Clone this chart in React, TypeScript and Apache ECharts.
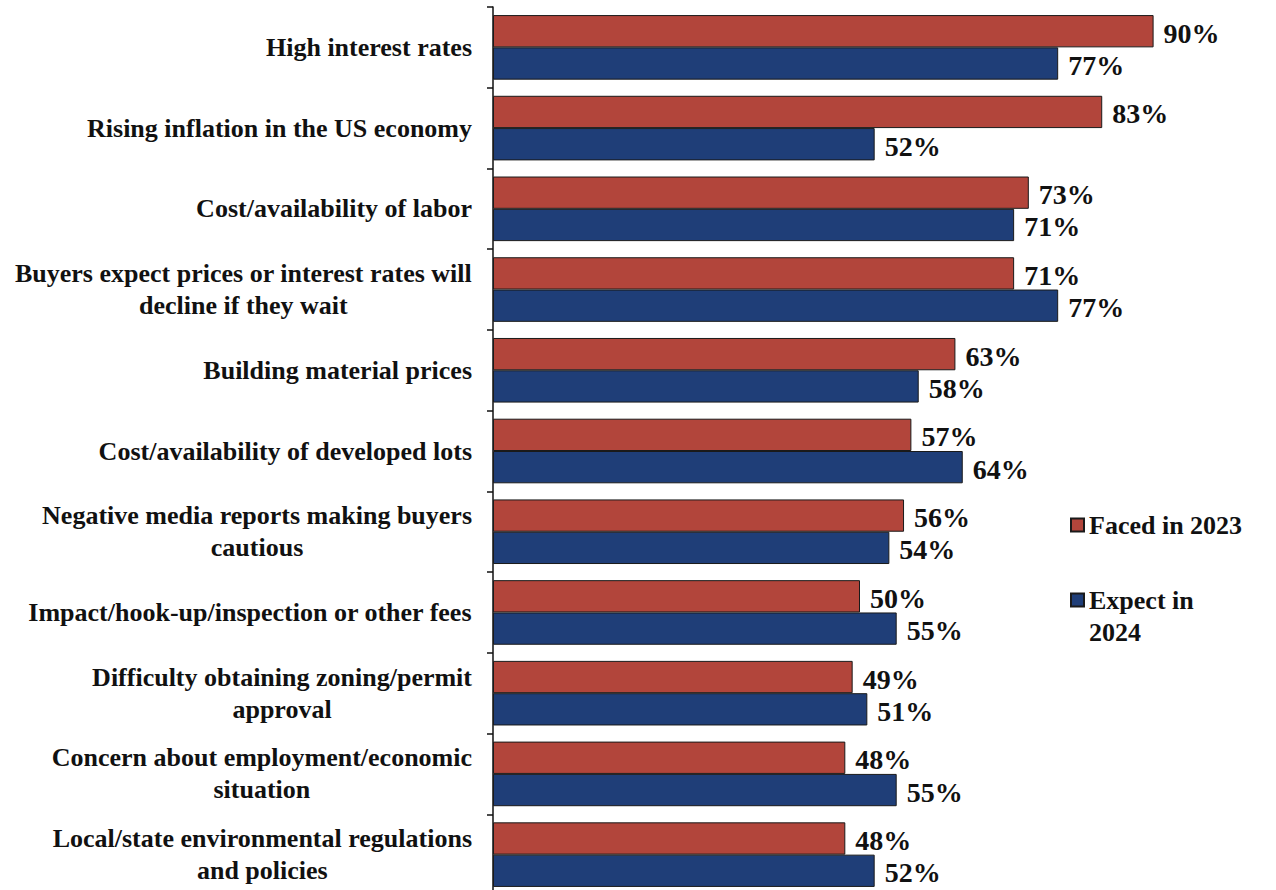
import React, { useEffect, useRef } from "react";
import * as echarts from "echarts";

const categories = [
  "High interest rates",
  "Rising inflation in the US economy",
  "Cost/availability of labor",
  "Buyers expect prices or interest rates will\ndecline if they wait",
  "Building material prices",
  "Cost/availability of developed lots",
  "Negative media reports making buyers\ncautious",
  "Impact/hook-up/inspection or other fees",
  "Difficulty obtaining zoning/permit\napproval",
  "Concern about employment/economic\nsituation",
  "Local/state environmental regulations\nand policies",
];

const faced2023 = [90, 83, 73, 71, 63, 57, 56, 50, 49, 48, 48];
const expect2024 = [77, 52, 71, 77, 58, 64, 54, 55, 51, 55, 52];

const seriesNames = ["Faced in 2023", "Expect in 2024"];

const FONT = "'Liberation Serif', 'Times New Roman', serif";
const RED = "#B2453B";
const BLUE = "#1F3E78";

export default function App() {
  const ref = useRef<HTMLDivElement>(null);

  useEffect(() => {
    if (!ref.current) return;
    const chart = echarts.init(ref.current, null, { renderer: "svg" });

    const labelStyle = {
      show: true,
      position: "right" as const,
      distance: 10,
      offset: [0, 2],
      formatter: "{c}%",
      fontFamily: FONT,
      fontWeight: "bold" as const,
      fontSize: 28,
      color: "#111",
    };

    const legendText = {
      fontFamily: FONT,
      fontWeight: "bold" as const,
      fontSize: 26,
      color: "#111",
      lineHeight: 32,
    };

    chart.setOption({
      animation: false,
      backgroundColor: "#ffffff",
      grid: { left: 493, top: 7, right: 49, bottom: 5, containLabel: false },
      xAxis: {
        type: "value",
        min: 0,
        max: 100,
        show: false,
      },
      yAxis: {
        type: "category",
        inverse: true,
        data: categories,
        axisLine: { show: true, lineStyle: { color: "#111", width: 1.5 } },
        axisTick: { show: true, length: 6, lineStyle: { color: "#111", width: 1.5 } },
        axisLabel: {
          margin: 21,
          formatter: (v: string) =>
            v
              .split("\n")
              .map((l) => `{c|${l}}`)
              .join("\n"),
          rich: {
            c: {
              align: "center",
              fontFamily: FONT,
              fontWeight: "bold",
              fontSize: 26,
              lineHeight: 32,
              color: "#111",
            },
          },
        },
      },
      legend: [
        {
          data: [seriesNames[0]],
          orient: "vertical",
          left: 1070,
          top: 509,
          padding: 0,
          itemWidth: 13,
          itemHeight: 13,
          itemGap: 0,
          icon: "rect",
          textStyle: legendText,
        },
        {
          data: [seriesNames[1]],
          orient: "vertical",
          left: 1070,
          top: 552,
          padding: 0,
          itemWidth: 13,
          itemHeight: 13,
          itemGap: 0,
          icon: "rect",
          formatter: () => " \nExpect in\n2024",
          textStyle: legendText,
        },
      ],
      series: [
        {
          name: seriesNames[0],
          type: "bar",
          data: faced2023,
          barWidth: 32.3,
          barGap: "0%",
          itemStyle: { color: RED, borderColor: "#1a1a1a", borderWidth: 1 },
          label: labelStyle,
        },
        {
          name: seriesNames[1],
          type: "bar",
          data: expect2024,
          barWidth: 32.3,
          barGap: "0%",
          itemStyle: { color: BLUE, borderColor: "#1a1a1a", borderWidth: 1 },
          label: labelStyle,
        },
      ],
    });

    return () => chart.dispose();
  }, []);

  return (
    <div
      ref={ref}
      style={{ position: "fixed", left: 0, top: 0, width: 1276, height: 900, background: "#fff" }}
    />
  );
}
